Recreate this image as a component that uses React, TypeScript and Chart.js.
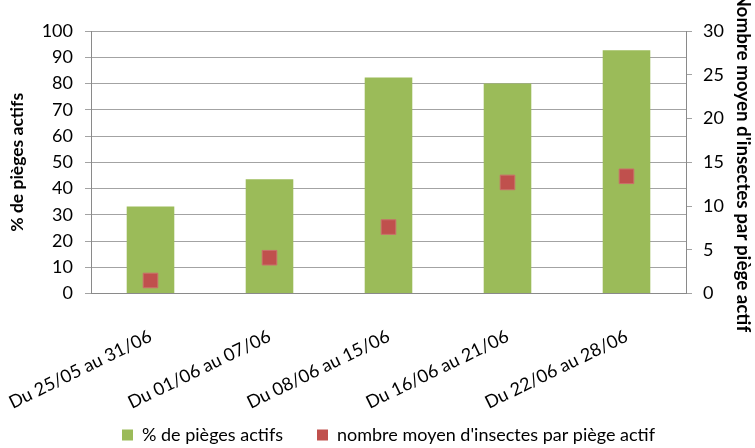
import React, { useEffect, useRef } from "react";
import { Chart, registerables } from "chart.js";

Chart.register(...registerables);

const categories = [
  "Du 25/05 au 31/06",
  "Du 01/06 au 07/06",
  "Du 08/06 au 15/06",
  "Du 16/06 au 21/06",
  "Du 22/06 au 28/06",
];
const pctActiveTraps = [33.2, 43.5, 82.3, 80, 92.7];
const meanInsects = [1.5, 4.1, 7.6, 12.7, 13.4];

const leftTitle = "% de pièges actifs";
const rightTitle = "Nombre moyen d'insectes par piège actif";
const seriesBarLabel = "% de pièges actifs";
const seriesPointLabel = "nombre moyen d'insectes par piège actif";

const FONT = "Lato, 'Open Sans', sans-serif";

export default function App() {
  const ref = useRef<HTMLCanvasElement | null>(null);

  useEffect(() => {
    document.body.style.margin = "0";
    const canvas = ref.current;
    if (!canvas) return;
    const legendShift = {
      id: "legendShift",
      afterLayout(chart: any) {
        const l = chart.legend;
        if (l) {
          l.left = 22;
          const h = l.height;
          l.top = 392;
          l.bottom = 392 + h;
        }
      },
    };
    const chart = new Chart(canvas, {
      type: "bar",
      data: {
        labels: categories,
        datasets: [
          {
            type: "bar",
            label: seriesBarLabel,
            data: pctActiveTraps,
            backgroundColor: "#9BBB59",
            borderWidth: 0,
            yAxisID: "y",
            barPercentage: 0.8,
            categoryPercentage: 0.5,
            order: 2,
          },
          {
            type: "line",
            label: seriesPointLabel,
            data: meanInsects,
            showLine: false,
            pointStyle: "rect",
            pointRadius: 10.3,
            pointHoverRadius: 10.3,
            backgroundColor: "#C0504D",
            borderColor: "#C0504D",
            borderWidth: 0,
            pointBorderWidth: 1,
            pointBorderColor: "#CB6E6B",
            yAxisID: "y1",
            order: 1,
          },
        ],
      },
      options: {
        animation: false,
        responsive: false,
        maintainAspectRatio: false,
        layout: { padding: { top: 31, left: 0, right: 0, bottom: -33.6 } },
        plugins: {
          tooltip: { enabled: false },
          legend: {
            position: "bottom",
            labels: {
              boxWidth: 11,
              boxHeight: 11,
              padding: 34,
              color: "#000",
              font: { family: FONT, size: 18 },
              sort: (a: any, b: any) => a.datasetIndex - b.datasetIndex,
            },
          },
        },
        scales: {
          x: {
            grid: { display: false },
            border: { display: true, color: "#8a8a8a", width: 1 },
            ticks: {
              minRotation: 26,
              maxRotation: 26,
              padding: 24,
              color: "#000",
              font: { family: FONT, size: 18 },
            },
            afterFit: (s: any) => {
              s.height = 126;
              s.paddingLeft = 0;
              s.paddingRight = 0;
            },
          },
          y: {
            position: "left",
            min: 0,
            max: 100,
            ticks: {
              stepSize: 10,
              padding: 12,
              color: "#000",
              font: { family: FONT, size: 18 },
            },
            grid: { color: "#a3a3a3", lineWidth: 1, tickLength: 6, drawTicks: true },
            border: { display: true, color: "#8a8a8a", width: 1 },
            title: {
              display: true,
              text: leftTitle,
              color: "#000",
              padding: { top: 7, bottom: 0 },
              font: { family: FONT, size: 17.5, weight: "bold" },
            },
            afterFit: (s: any) => {
              s.width = 91;
              s.paddingTop = 0;
              s.paddingBottom = 0;
            },
          },
          y1: {
            position: "right",
            min: 0,
            max: 30,
            ticks: {
              stepSize: 5,
              padding: 11,
              color: "#000",
              font: { family: FONT, size: 18 },
            },
            grid: { drawOnChartArea: false, color: "#a3a3a3", tickLength: 6, drawTicks: true },
            border: { display: true, color: "#8a8a8a", width: 1 },
            title: {
              display: true,
              text: rightTitle,
              color: "#000",
              padding: { top: 1, bottom: 0 },
              font: { family: FONT, size: 18.8, weight: "bold" },
            },
            afterFit: (s: any) => {
              s.width = 69;
              s.paddingTop = 0;
              s.paddingBottom = 0;
            },
          },
        },
      },
      plugins: [legendShift],
    });
    return () => chart.destroy();
  }, []);

  return (
    <div style={{ width: 755, height: 448, background: "#fff" }}>
      <canvas ref={ref} width={755} height={448} style={{ display: "block" }} />
    </div>
  );
}
